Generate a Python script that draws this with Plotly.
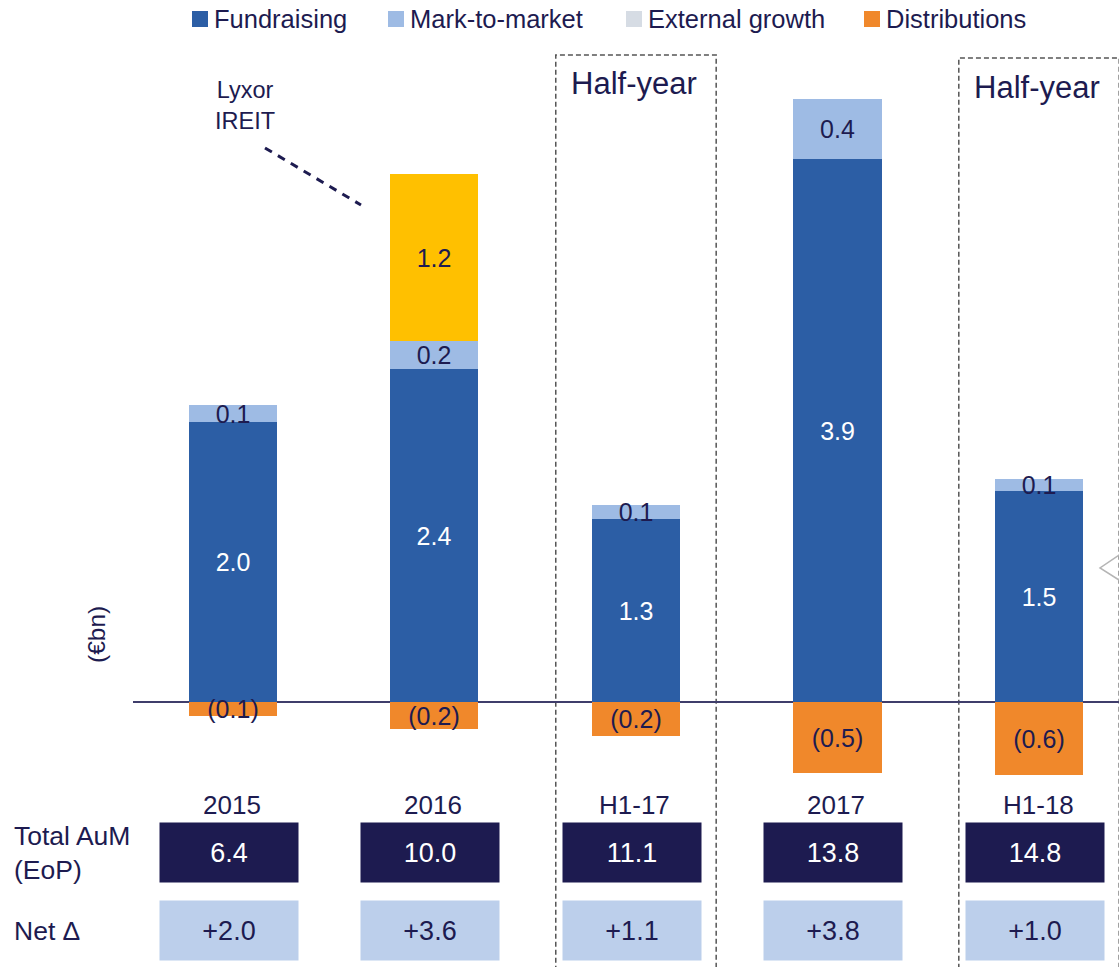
import plotly.graph_objects as go

# ---------------- data ----------------
categories = ["2015", "2016", "H1-17", "2017", "H1-18"]
fundraising = [2.0, 2.38, 1.31, 3.88, 1.51]
mark_to_market = [0.12, 0.20, 0.10, 0.43, 0.08]
external_growth = [0.0, 1.19, 0.0, 0.0, 0.0]
distributions = [-0.10, -0.19, -0.24, -0.51, -0.52]

fundraising_labels = ["2.0", "2.4", "1.3", "3.9", "1.5"]
mtm_labels = ["0.1", "0.2", "0.1", "0.4", "0.1"]
external_labels = ["", "1.2", "", "", ""]
distribution_labels = ["(0.1)", "(0.2)", "(0.2)", "(0.5)", "(0.6)"]

total_aum = [6.4, 10.0, 11.1, 13.8, 14.8]
net_change = [2.0, 3.6, 1.1, 3.8, 1.0]
half_year_categories = ["H1-17", "H1-18"]

series_names = ["Fundraising", "Mark-to-market", "External growth", "Distributions"]

# ---------------- style ----------------
W, H = 1119, 967
L, R, T, B = 133, 0, 0, 0
NAVY = "#1d1b50"
C_FUND = "#2c5ea5"
C_MTM = "#9ebbe4"
C_EXT = "#d6dce4"
C_LYXOR = "#ffc000"
C_DIST = "#f0882b"
C_NETBOX = "#bccfeb"
FONT = "Liberation Sans"
series_colors = [C_FUND, C_MTM, C_EXT, C_DIST]


def pxx(x):
    return (x - L) / (W - L - R)


def pxy(y):
    return (H - B - y) / (H - T - B)


BAR_W = 0.437
fig = go.Figure()

common = dict(x=categories, width=BAR_W, textposition="inside", textangle=0,
              insidetextanchor="middle", showlegend=False, cliponaxis=False,
              hoverinfo="skip")

fig.add_trace(go.Bar(y=fundraising, name=series_names[0], marker_color=C_FUND,
                     text=fundraising_labels,
                     textfont=dict(color="white", size=25, family=FONT), **common))
fig.add_trace(go.Bar(y=mark_to_market, name=series_names[1], marker_color=C_MTM,
                     text=mtm_labels,
                     textfont=dict(color=NAVY, size=25, family=FONT), **common))
ext_colors = [C_LYXOR if v > 0 else C_EXT for v in external_growth]
fig.add_trace(go.Bar(y=external_growth, name=series_names[2], marker_color=ext_colors,
                     text=external_labels,
                     textfont=dict(color=NAVY, size=25, family=FONT), **common))
fig.add_trace(go.Bar(y=distributions, name=series_names[3], marker_color=C_DIST,
                     text=distribution_labels,
                     textfont=dict(color=NAVY, size=25, family=FONT), **common))

for tr in fig.data:
    tr.marker.line.width = 0

# zero line spans the plot
y_lo = -(H - 702) / 140.0
y_hi = 702 / 140.0

shapes = []
annotations = []

# manual legend
leg_sq_x = [192, 388, 626, 864]
for name, col, sx in zip(series_names, series_colors, leg_sq_x):
    shapes.append(dict(type="rect", xref="paper", yref="paper",
                       x0=pxx(sx), x1=pxx(sx + 16), y0=pxy(27), y1=pxy(11),
                       fillcolor=col, line=dict(width=0), layer="above"))
    annotations.append(dict(text=name, xref="paper", yref="paper",
                            x=pxx(sx + 20), y=pxy(19), xanchor="left", yanchor="middle",
                            showarrow=False, font=dict(size=25.5, color=NAVY, family=FONT)))

# half-year dashed boxes
half_tops = [55, 58]
half_text_y = [83, 87]
for cat, top, ty in zip(half_year_categories, half_tops, half_text_y):
    i = categories.index(cat)
    shapes.append(dict(type="rect", xref="x", yref="paper",
                       x0=i - 0.398, x1=i + 0.398, y0=-0.05, y1=pxy(top),
                       line=dict(color="#555555", width=1.5, dash="5px,3px"),
                       fillcolor="rgba(0,0,0,0)", layer="below"))
    annotations.append(dict(text="Half-year", xref="x", yref="paper", x=i, xshift=-2,
                            y=pxy(ty), xanchor="center", yanchor="middle", showarrow=False,
                            font=dict(size=31, color=NAVY, family=FONT)))

# Lyxor IREIT callout
annotations.append(dict(text="Lyxor<br>IREIT", xref="paper", yref="paper",
                        x=pxx(245), y=pxy(105), xanchor="center", yanchor="middle",
                        showarrow=False, align="center",
                        font=dict(size=23.5, color=NAVY, family=FONT)))
shapes.append(dict(type="line", xref="paper", yref="paper",
                   x0=pxx(265), y0=pxy(148), x1=pxx(361), y1=pxy(205),
                   line=dict(color=NAVY, width=3, dash="8px,7px")))

# partial chevron at right edge
shapes.append(dict(type="path", xref="paper", yref="paper",
                   path=f"M {pxx(1119)},{pxy(555)} L {pxx(1100)},{pxy(568)} L {pxx(1119)},{pxy(580)}",
                   line=dict(color="#b5b5b5", width=1.5)))

# y-axis unit label
annotations.append(dict(text="(€bn)", xref="paper", yref="paper", x=pxx(96), y=pxy(635),
                        xanchor="center", yanchor="middle", textangle=-90, showarrow=False,
                        font=dict(size=24.5, color=NAVY, family=FONT)))

# table: category labels, totals, net change
for i, (cat, tot, net) in enumerate(zip(categories, total_aum, net_change)):
    annotations.append(dict(text=cat, xref="x", yref="paper", x=i, xshift=-1, y=pxy(805),
                            xanchor="center", yanchor="middle", showarrow=False,
                            font=dict(size=26, color=NAVY, family=FONT)))
    annotations.append(dict(text=f"{tot:.1f}", xref="x", yref="paper", x=i, xshift=-4,
                            y=pxy(852.5), xanchor="center", yanchor="middle", showarrow=False,
                            width=138, height=59, borderpad=0, bgcolor=NAVY,
                            font=dict(size=27, color="white", family=FONT)))
    annotations.append(dict(text=f"+{net:.1f}", xref="x", yref="paper", x=i, xshift=-4,
                            y=pxy(930.5), xanchor="center", yanchor="middle", showarrow=False,
                            width=138, height=59, borderpad=0, bgcolor=C_NETBOX,
                            font=dict(size=27, color=NAVY, family=FONT)))

annotations.append(dict(text="Total AuM<br>(EoP)", xref="paper", yref="paper", x=pxx(12),
                        y=pxy(853), xanchor="left", yanchor="middle", align="left",
                        showarrow=False, font=dict(size=26.5, color=NAVY, family=FONT)))
annotations.append(dict(text="Net Δ", xref="paper", yref="paper", x=pxx(12),
                        y=pxy(931), xanchor="left", yanchor="middle", align="left",
                        showarrow=False, font=dict(size=26.5, color=NAVY, family=FONT)))

fig.update_layout(
    width=W, height=H,
    margin=dict(l=L, r=R, t=T, b=B, pad=0),
    barmode="relative",
    bargap=0,
    paper_bgcolor="white",
    plot_bgcolor="white",
    showlegend=False,
    uniformtext=dict(minsize=25, mode="show"),
    font=dict(family=FONT, color=NAVY),
    xaxis=dict(type="category", categoryorder="array", categoryarray=categories,
               range=[-0.496, 4.397], showticklabels=False, showgrid=False,
               zeroline=False, showline=False, ticks=""),
    yaxis=dict(range=[y_lo, y_hi], showticklabels=False, showgrid=False,
               zeroline=True, zerolinecolor="#3f3d6b", zerolinewidth=1.5,
               showline=False, ticks=""),
    shapes=shapes,
    annotations=annotations,
)

fig.write_html("out.html")
